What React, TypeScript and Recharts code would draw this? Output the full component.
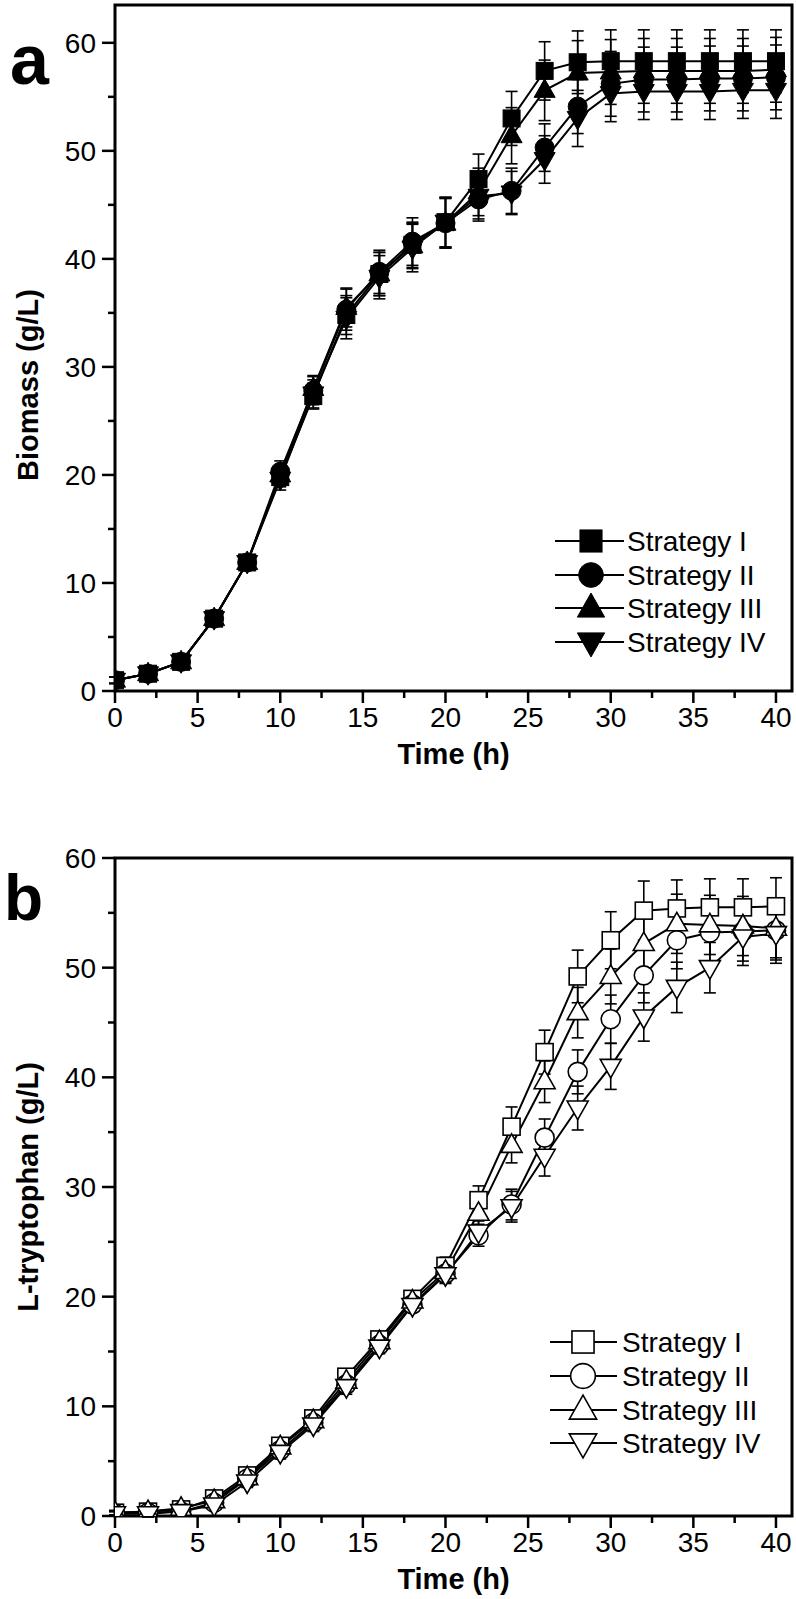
import React from 'react';
import { LineChart, Line, XAxis, YAxis, ErrorBar, ReferenceArea, Legend } from 'recharts';

const TIME = [0, 2, 4, 6, 8, 10, 12, 14, 16, 18, 20, 22, 24, 26, 28, 30, 32, 34, 36, 38, 40];
const STRATEGIES = ['Strategy I', 'Strategy II', 'Strategy III', 'Strategy IV'];

// (a) biomass, g/L
const BIO_I = [1.0, 1.6, 2.7, 6.7, 11.9, 19.8, 27.3, 34.8, 38.6, 41.3, 43.4, 47.4, 53.0, 57.4, 58.2, 58.3, 58.3, 58.3, 58.3, 58.3, 58.3];
const BIO_II = [1.0, 1.6, 2.7, 6.7, 11.9, 20.3, 27.8, 35.3, 38.8, 41.6, 43.3, 45.5, 46.3, 50.3, 54.1, 56.2, 56.6, 56.6, 56.7, 56.7, 56.8];
const BIO_III = [1.0, 1.6, 2.7, 6.7, 11.9, 20.0, 28.0, 35.5, 38.6, 41.2, 43.3, 46.2, 51.4, 55.6, 57.2, 57.3, 57.4, 57.4, 57.4, 57.4, 57.5];
const BIO_IV = [1.0, 1.6, 2.7, 6.7, 11.9, 19.6, 27.5, 34.5, 38.3, 41.0, 43.4, 45.8, 46.1, 49.2, 53.0, 55.3, 55.5, 55.5, 55.5, 55.6, 55.6];
const BIO_ERR_I = [0.3, 0.4, 0.5, 0.5, 0.7, 0.9, 1.2, 1.8, 2.0, 2.1, 2.3, 2.3, 2.5, 2.7, 2.9, 2.9, 2.9, 2.9, 2.9, 2.9, 2.9];
const BIO_ERR_II = [0.3, 0.4, 0.5, 0.5, 0.7, 1.0, 1.3, 1.9, 2.0, 2.2, 2.3, 2.0, 2.1, 2.2, 2.5, 3.0, 3.0, 3.0, 3.0, 3.0, 3.0];
const BIO_ERR_III = [0.3, 0.4, 0.5, 0.5, 0.7, 0.9, 1.2, 1.8, 2.0, 2.1, 2.3, 2.2, 2.6, 2.8, 3.0, 3.0, 3.0, 3.0, 3.0, 3.0, 3.0];
const BIO_ERR_IV = [0.3, 0.4, 0.5, 0.5, 0.7, 1.0, 1.3, 1.9, 2.0, 2.2, 2.3, 2.1, 2.0, 2.2, 2.6, 2.6, 2.6, 2.6, 2.6, 2.6, 2.6];

// (b) L-tryptophan, g/L
const TRP_I = [0.3, 0.4, 0.6, 1.6, 3.7, 6.4, 8.9, 12.7, 16.1, 19.8, 22.8, 28.8, 35.5, 42.3, 49.2, 52.5, 55.2, 55.4, 55.5, 55.5, 55.6];
const TRP_II = [0.2, 0.3, 0.4, 1.2, 3.4, 6.0, 8.5, 12.0, 15.6, 19.3, 22.1, 25.6, 28.4, 34.5, 40.5, 45.3, 49.3, 52.5, 53.2, 53.3, 53.4];
const TRP_III = [0.3, 0.4, 0.7, 1.4, 3.5, 6.3, 8.7, 12.3, 15.9, 19.6, 22.3, 27.6, 33.8, 39.6, 45.9, 49.2, 52.2, 54.0, 53.9, 53.8, 53.6];
const TRP_IV = [0.2, 0.2, 0.4, 1.0, 3.1, 5.8, 8.3, 11.8, 15.4, 19.2, 22.0, 25.9, 28.2, 32.8, 37.2, 41.0, 45.5, 48.2, 50.0, 52.8, 53.1];
const TRP_ERR_I = [0.2, 0.3, 0.3, 0.4, 0.5, 0.6, 0.6, 0.7, 0.6, 0.6, 0.8, 1.3, 1.8, 2.0, 2.4, 2.6, 2.7, 2.6, 2.6, 2.6, 2.6];
const TRP_ERR_II = [0.2, 0.3, 0.3, 0.4, 0.5, 0.6, 0.6, 0.7, 0.6, 0.6, 0.8, 1.0, 1.4, 1.7, 2.0, 2.2, 2.5, 2.6, 2.7, 2.7, 2.7];
const TRP_ERR_III = [0.2, 0.3, 0.3, 0.4, 0.5, 0.6, 0.6, 0.7, 0.6, 0.6, 0.8, 1.2, 1.6, 1.9, 2.3, 2.5, 2.6, 2.7, 2.7, 2.7, 2.7];
const TRP_ERR_IV = [0.2, 0.3, 0.3, 0.4, 0.5, 0.6, 0.6, 0.7, 0.6, 0.6, 0.8, 1.0, 1.4, 1.8, 2.0, 2.1, 2.2, 2.3, 2.3, 2.6, 2.7];

const X_TICKS = [0, 2.5, 5, 7.5, 10, 12.5, 15, 17.5, 20, 22.5, 25, 27.5, 30, 32.5, 35, 37.5, 40];
const Y_TICKS = [0, 5, 10, 15, 20, 25, 30, 35, 40, 45, 50, 55, 60];

const X_MAX = 40.97;
const FONT = '"Liberation Sans", Arial, sans-serif';
const SHAPES = ['square', 'circle', 'up', 'down'];
const KEYS = ['I', 'II', 'III', 'IV'];

function buildRows(series: number[][], errs: number[][]) {
  return TIME.map((t, i) => {
    const row: any = { t };
    KEYS.forEach((k, j) => {
      row[k] = series[j][i];
      row['e' + k] = errs[j][i];
    });
    return row;
  });
}

const bioRows = buildRows([BIO_I, BIO_II, BIO_III, BIO_IV], [BIO_ERR_I, BIO_ERR_II, BIO_ERR_III, BIO_ERR_IV]);
const trpRows = buildRows([TRP_I, TRP_II, TRP_III, TRP_IV], [TRP_ERR_I, TRP_ERR_II, TRP_ERR_III, TRP_ERR_IV]);

function Marker({ shape, x, y, filled, s = 1 }: any) {
  const common = { fill: filled ? '#000' : '#fff', stroke: '#000', strokeWidth: filled ? 1 : 1.6 };
  if (shape === 'square') {
    const h = 8.5 * s;
    return <rect x={x - h} y={y - h} width={2 * h} height={2 * h} {...common} />;
  }
  if (shape === 'circle') return <circle cx={x} cy={y} r={9.5 * s} {...common} />;
  const w = 10.5 * s, a = 11.5 * s, b = 7 * s;
  if (shape === 'up') return <polygon points={`${x},${y - a} ${x - w},${y + b} ${x + w},${y + b}`} {...common} />;
  return <polygon points={`${x},${y + a} ${x - w},${y - b} ${x + w},${y - b}`} {...common} />;
}

const XTick = (props: any) => {
  const { x, y, payload } = props;
  const major = payload.value % 5 === 0;
  return (
    <g>
      <line x1={x} x2={x} y1={y} y2={y + (major ? 12 : 7)} stroke="#000" strokeWidth={2.5} />
      {major && (
        <text x={x} y={y + 36} textAnchor="middle" fontSize={28} fontFamily={FONT} fill="#000">
          {payload.value}
        </text>
      )}
    </g>
  );
};

const YTick = (props: any) => {
  const { x, y, payload } = props;
  const major = payload.value % 10 === 0;
  return (
    <g>
      <line x1={x} x2={x - (major ? 13 : 7)} y1={y} y2={y} stroke="#000" strokeWidth={2.5} />
      {major && (
        <text x={x - 19} y={y + 10} textAnchor="end" fontSize={28} fontFamily={FONT} fill="#000">
          {payload.value}
        </text>
      )}
    </g>
  );
};

function Panel({ rows, height, top, bottom, yMax, letter, yLabel, labelUp, filled, legend }: any) {
  const plotBottom = height - bottom;
  const ly = plotBottom - labelUp;
  return (
    <LineChart width={796} height={height} data={rows} margin={{ top, right: 4, bottom: 0, left: 0 }}>
      <ReferenceArea x1={0} x2={X_MAX} y1={0} y2={yMax} fill="none" stroke="#000" strokeWidth={3} />
      <XAxis
        dataKey="t"
        type="number"
        domain={[0, X_MAX]}
        allowDataOverflow
        ticks={X_TICKS}
        interval={0}
        height={bottom}
        axisLine={false}
        tickLine={false}
        tickSize={0}
        tickMargin={0}
        tick={<XTick />}
        label={{
          content: (p: any) => (
            <text x={p.viewBox.x + p.viewBox.width / 2} y={plotBottom + 73} textAnchor="middle"
              fontSize={29} fontWeight="bold" fontFamily={FONT} fill="#000">Time (h)</text>
          ),
        }}
      />
      <YAxis
        type="number"
        domain={[0, yMax]}
        allowDataOverflow
        ticks={Y_TICKS}
        interval={0}
        width={115}
        axisLine={false}
        tickLine={false}
        tickSize={0}
        tickMargin={0}
        tick={<YTick />}
        label={{
          content: () => (
            <g>
              <text x={letter.x} y={letter.y} fontSize={letter.size} fontWeight="bold" fontFamily={FONT} fill="#000">
                {letter.text}
              </text>
              <text x={28} y={ly} transform={`rotate(-90, 28, ${ly})`}
                textAnchor="middle" dominantBaseline="central" fontSize={29} fontWeight="bold" fontFamily={FONT} fill="#000">
                {yLabel}
              </text>
            </g>
          ),
        }}
      />
      {KEYS.map((k, j) => (
        <Line
          key={k}
          dataKey={k}
          name={STRATEGIES[j]}
          stroke="#000"
          strokeWidth={2}
          isAnimationActive={false}
          dot={(p: any) => <Marker key={p.index} shape={SHAPES[j]} x={p.cx} y={p.cy} filled={filled} />}
        >
          <ErrorBar dataKey={'e' + k} direction="y" width={6} stroke="#000" strokeWidth={1.6} isAnimationActive={false} />
        </Line>
      ))}
      <Legend
        layout="horizontal"
        verticalAlign="middle"
        align="center"
        wrapperStyle={{ position: 'absolute', left: legend.left, top: legend.top, width: 240, height: 150 }}
        content={() => (
          <svg width={240} height={150} style={{ display: 'block' }}>
            {STRATEGIES.map((name, j) => {
              const cy = legend.rows[j];
              return (
                <g key={name}>
                  <line x1={legend.x0} x2={legend.x1} y1={cy} y2={cy} stroke="#000" strokeWidth={2} />
                  <Marker shape={SHAPES[j]} x={legend.mx} y={cy} filled={filled} s={1.3} />
                  <text x={legend.tx} y={cy} dominantBaseline="central" fontSize={28} fontFamily={FONT} fill="#000">
                    {name}
                  </text>
                </g>
              );
            })}
          </svg>
        )}
      />
    </LineChart>
  );
}

export default function App() {
  return (
    <div style={{ width: 796, height: 1599, overflow: 'hidden', background: '#fff' }}>
      <style>{'html, body { margin: 0; padding: 0; overflow: hidden; background: #fff; }'}</style>
      <Panel
        rows={bioRows}
        height={798}
        top={5}
        bottom={107}
        yMax={63.5}
        filled
        yLabel="Biomass (g/L)"
        labelUp={306}
        letter={{ text: 'a', x: 10, y: 84, size: 70 }}
        legend={{ left: 550, top: 525, x0: 5, x1: 74, mx: 41, tx: 77, rows: [16, 50, 83, 117] }}
      />
      <Panel
        rows={trpRows}
        height={801}
        top={60}
        bottom={83}
        yMax={60}
        filled={false}
        yLabel="L-tryptophan (g/L)"
        labelUp={329}
        letter={{ text: 'b', x: 4, y: 122, size: 64 }}
        legend={{ left: 545, top: 520, x0: 5, x1: 72, mx: 38, tx: 77, rows: [24, 58, 92, 125] }}
      />
    </div>
  );
}
